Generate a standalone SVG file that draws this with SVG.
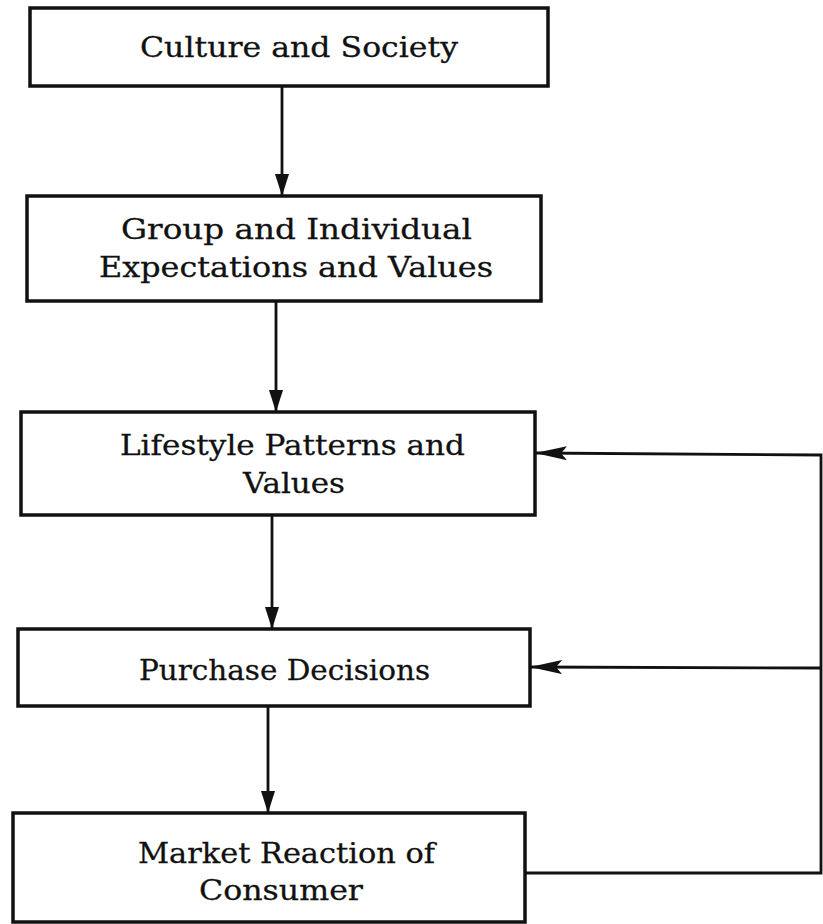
<svg xmlns="http://www.w3.org/2000/svg" width="823" height="924" viewBox="0 0 823 924">
  <style>
    .box { fill: #ffffff; stroke: #111111; stroke-width: 3.5; }
    .lbl { font-family: "DejaVu Serif", "Liberation Serif", serif; font-size: 28px; fill: #111111; stroke: #111111; stroke-width: 0.3; }
    .conn { fill: none; stroke: #111111; stroke-width: 2.8; }
  </style>
  <defs>
    <marker id="ahV" markerWidth="14" markerHeight="22" refX="7" refY="22" orient="0" markerUnits="userSpaceOnUse" viewBox="0 0 14 22">
      <path d="M0,0 L14,0 L7,22 z" fill="#111111"/>
    </marker>
    <marker id="ahH" markerWidth="32" markerHeight="14" refX="32" refY="7" orient="auto" markerUnits="userSpaceOnUse" viewBox="0 0 32 14">
      <path d="M0,0 L32,7 L0,14 L6,7 z" fill="#111111"/>
    </marker>
  </defs>
  <rect width="823" height="924" fill="#ffffff"/>

  <g id="connectors">
    <line class="conn" x1="282" y1="86" x2="282" y2="196" marker-end="url(#ahV)"/>
    <line class="conn" x1="276" y1="301" x2="276" y2="412" marker-end="url(#ahV)"/>
    <line class="conn" x1="272" y1="515" x2="272" y2="629" marker-end="url(#ahV)"/>
    <line class="conn" x1="268" y1="706" x2="268" y2="813" marker-end="url(#ahV)"/>
    <polyline class="conn" points="525,873 821,873 821,455 535,453" marker-end="url(#ahH)"/>
    <line class="conn" x1="821" y1="668" x2="530" y2="667" marker-end="url(#ahH)"/>
  </g>

  <g id="node-culture">
    <rect class="box" x="30" y="8" width="518" height="78"/>
    <text class="lbl" x="140" y="57" textLength="318" lengthAdjust="spacingAndGlyphs">Culture and Society</text>
  </g>

  <g id="node-group">
    <rect class="box" x="27" y="196" width="514" height="105"/>
    <text class="lbl" x="121" y="239" textLength="351" lengthAdjust="spacingAndGlyphs">Group and Individual</text>
    <text class="lbl" x="99" y="277" textLength="394" lengthAdjust="spacingAndGlyphs">Expectations and Values</text>
  </g>

  <g id="node-lifestyle">
    <rect class="box" x="21" y="412" width="514" height="103"/>
    <text class="lbl" x="120" y="455" textLength="345" lengthAdjust="spacingAndGlyphs">Lifestyle Patterns and</text>
    <text class="lbl" x="243" y="493" textLength="102" lengthAdjust="spacingAndGlyphs">Values</text>
  </g>

  <g id="node-purchase">
    <rect class="box" x="18" y="629" width="512" height="77"/>
    <text class="lbl" x="139" y="680" textLength="291" lengthAdjust="spacingAndGlyphs">Purchase Decisions</text>
  </g>

  <g id="node-market">
    <rect class="box" x="13" y="813" width="512" height="109"/>
    <text class="lbl" x="138" y="863" textLength="297" lengthAdjust="spacingAndGlyphs">Market Reaction of</text>
    <text class="lbl" x="199" y="900" textLength="164" lengthAdjust="spacingAndGlyphs">Consumer</text>
  </g>
</svg>
